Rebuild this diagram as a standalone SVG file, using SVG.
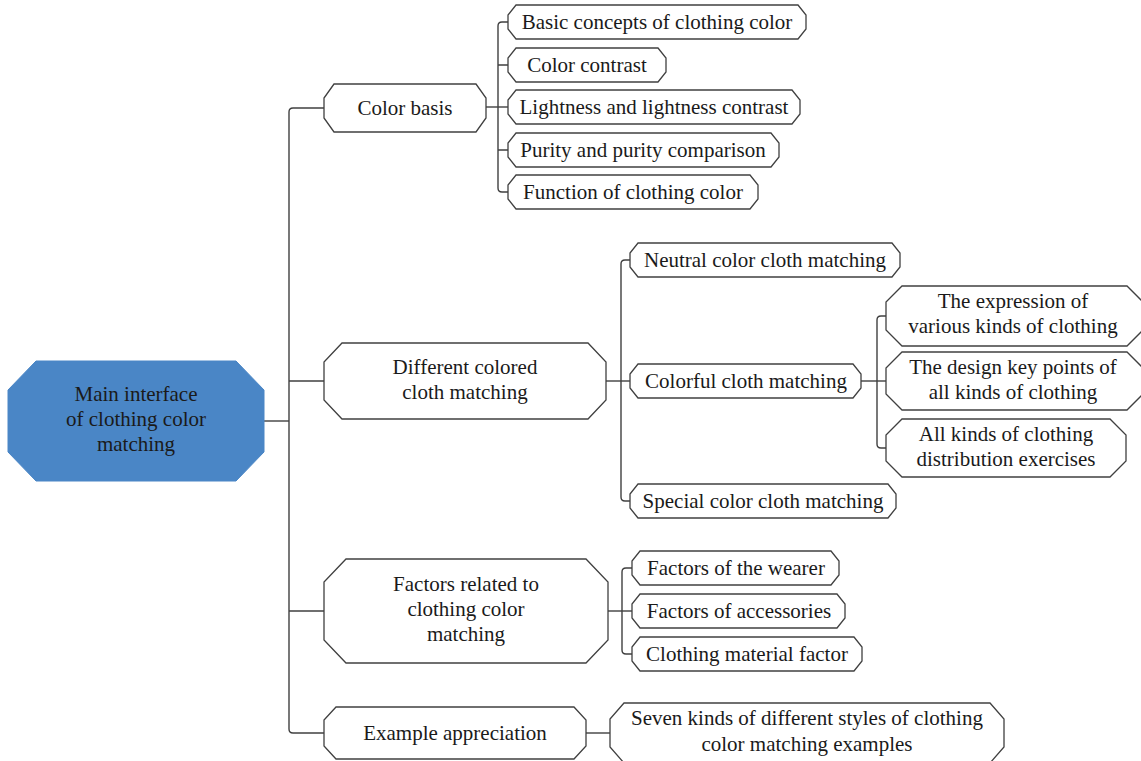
<svg xmlns="http://www.w3.org/2000/svg" width="1141" height="761" viewBox="0 0 1141 761">
<style>
.box{fill:#ffffff;stroke:#404040;stroke-width:1.3}
.root{fill:#4a86c6;stroke:#4a86c6;stroke-width:1}
.t{font-family:"Liberation Serif","Times New Roman",serif;font-size:21px;fill:#1a1a1a;text-anchor:middle}
.c{fill:none;stroke:#404040;stroke-width:1.4}
</style>
<rect width="1141" height="761" fill="#ffffff"/>
<g id="connectors">
<path class="c" d="M264,421 H289"/>
<path class="c" d="M324,108 H293 Q289,108 289,112 V729 Q289,733 293,733 H324"/>
<path class="c" d="M289,381 H324 M289,611 H324"/>
<path class="c" d="M486,107 H508"/>
<path class="c" d="M508,22 H502 Q498,22 498,26 V188 Q498,192 502,192 H508 M498,65 H508 M498,150 H508"/>
<path class="c" d="M606,381 H630"/>
<path class="c" d="M630,260 H625 Q621,260 621,264 V497 Q621,501 625,501 H630"/>
<path class="c" d="M861,381 H886"/>
<path class="c" d="M886,316 H881 Q877,316 877,320 V444 Q877,448 881,448 H886"/>
<path class="c" d="M608,611 H632"/>
<path class="c" d="M632,568 H626 Q622,568 622,572 V650 Q622,654 626,654 H632"/>
<path class="c" d="M586,733 H610"/>
</g>
<g id="root">
<polygon class="root" points="36,361 236,361 264,390 264,452 236,481 36,481 8,452 8,390"/>
<text class="t" x="136" y="401">Main interface</text>
<text class="t" x="136" y="426">of clothing color</text>
<text class="t" x="136" y="451">matching</text>
</g>
<g id="color-basis">
<polygon class="box" points="334,84 476,84 486,98 486,118 476,132 334,132 324,118 324,98"/>
<text class="t" x="405" y="115">Color basis</text>
</g>
<g id="basic-concepts">
<polygon class="box" points="516,5 798,5 806,15 806,29 798,39 516,39 508,29 508,15"/>
<text class="t" x="657" y="29">Basic concepts of clothing color</text>
</g>
<g id="color-contrast">
<polygon class="box" points="516,48 658,48 666,58 666,72 658,82 516,82 508,72 508,58"/>
<text class="t" x="587" y="72">Color contrast</text>
</g>
<g id="lightness">
<polygon class="box" points="516,90 792,90 800,100 800,114 792,124 516,124 508,114 508,100"/>
<text class="t" x="654" y="114">Lightness and lightness contrast</text>
</g>
<g id="purity">
<polygon class="box" points="516,133 771,133 779,143 779,157 771,167 516,167 508,157 508,143"/>
<text class="t" x="643" y="157">Purity and purity comparison</text>
</g>
<g id="function">
<polygon class="box" points="516,175 750,175 758,185 758,199 750,209 516,209 508,199 508,185"/>
<text class="t" x="633" y="199">Function of clothing color</text>
</g>
<g id="different-colored">
<polygon class="box" points="342,343 588,343 606,362 606,400 588,419 342,419 324,400 324,362"/>
<text class="t" x="465" y="374">Different colored</text>
<text class="t" x="465" y="399">cloth matching</text>
</g>
<g id="neutral">
<polygon class="box" points="638,243 892,243 900,253 900,267 892,277 638,277 630,267 630,253"/>
<text class="t" x="765" y="267">Neutral color cloth matching</text>
</g>
<g id="colorful">
<polygon class="box" points="638,364 853,364 861,374 861,388 853,398 638,398 630,388 630,374"/>
<text class="t" x="746" y="388">Colorful cloth matching</text>
</g>
<g id="special">
<polygon class="box" points="638,484 888,484 896,494 896,508 888,518 638,518 630,508 630,494"/>
<text class="t" x="763" y="508">Special color cloth matching</text>
</g>
<g id="expression">
<polygon class="box" points="902,286 1127,286 1143,302 1143,330 1127,346 902,346 886,330 886,302"/>
<text class="t" x="1013" y="308">The expression of</text>
<text class="t" x="1013" y="333">various kinds of clothing</text>
</g>
<g id="design">
<polygon class="box" points="902,352 1127,352 1143,368 1143,394 1127,410 902,410 886,394 886,368"/>
<text class="t" x="1013" y="374">The design key points of</text>
<text class="t" x="1013" y="399">all kinds of clothing</text>
</g>
<g id="all-kinds">
<polygon class="box" points="902,419 1110,419 1126,435 1126,461 1110,477 902,477 886,461 886,435"/>
<text class="t" x="1006" y="441">All kinds of clothing</text>
<text class="t" x="1006" y="466">distribution exercises</text>
</g>
<g id="factors-related">
<polygon class="box" points="346,559 586,559 608,582 608,640 586,663 346,663 324,640 324,582"/>
<text class="t" x="466" y="591">Factors related to</text>
<text class="t" x="466" y="616">clothing color</text>
<text class="t" x="466" y="641">matching</text>
</g>
<g id="wearer">
<polygon class="box" points="640,551 831,551 839,561 839,575 831,585 640,585 632,575 632,561"/>
<text class="t" x="736" y="575">Factors of the wearer</text>
</g>
<g id="accessories">
<polygon class="box" points="640,594 837,594 845,604 845,618 837,628 640,628 632,618 632,604"/>
<text class="t" x="739" y="618">Factors of accessories</text>
</g>
<g id="material">
<polygon class="box" points="640,637 854,637 862,647 862,661 854,671 640,671 632,661 632,647"/>
<text class="t" x="747" y="661">Clothing material factor</text>
</g>
<g id="example">
<polygon class="box" points="336,707 574,707 586,720 586,746 574,759 336,759 324,746 324,720"/>
<text class="t" x="455" y="740">Example appreciation</text>
</g>
<g id="seven-kinds">
<polygon class="box" points="624,703 990,703 1004,719 1004,747 990,763 624,763 610,747 610,719"/>
<text class="t" x="807" y="725">Seven kinds of different styles of clothing</text>
<text class="t" x="807" y="751">color matching examples</text>
</g>
</svg>
